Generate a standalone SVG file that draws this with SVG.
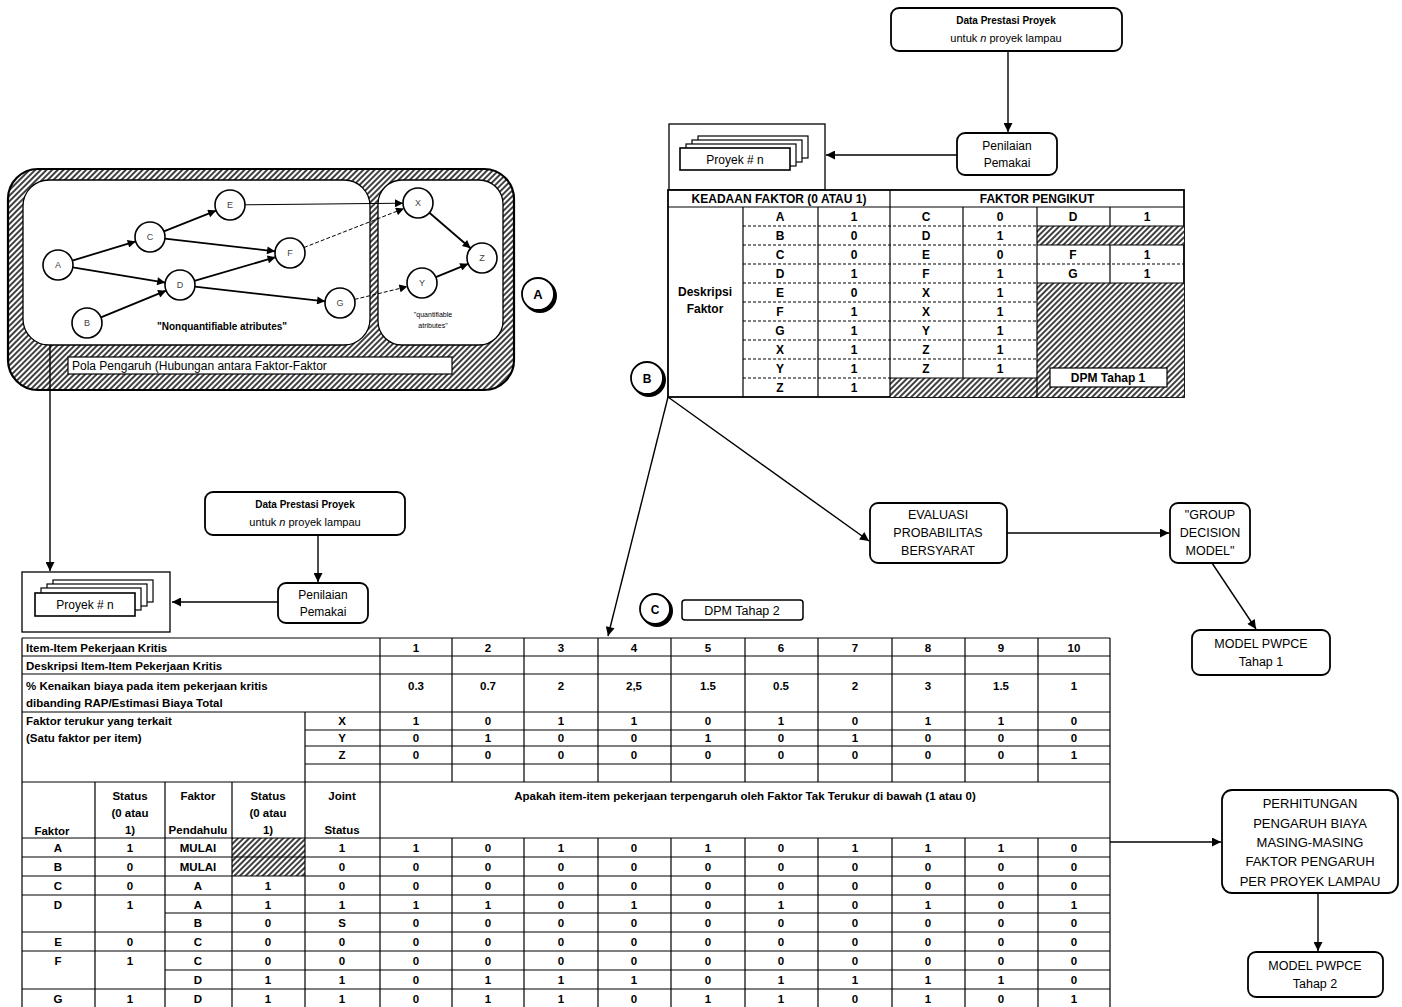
<svg xmlns="http://www.w3.org/2000/svg" width="1402" height="1007" viewBox="0 0 1402 1007">
<defs>
<style>
text{font-family:"Liberation Sans",Arial,Helvetica,sans-serif;fill:#000}
.m{text-anchor:middle}
.b{font-weight:bold}
.tb text{font-size:11.5px;font-weight:bold}
.tt text{font-size:12.5px}
.tk text{font-size:12px;font-weight:bold}
.ln{stroke:#000;stroke-width:1.4;fill:none}
.arr{marker-end:url(#ah)}
.bx{fill:#fff;stroke:#000;stroke-width:1.8}
.g{stroke:#000;stroke-width:1.2;fill:none}
.gd{stroke:#000;stroke-width:1.2;stroke-dasharray:3 2;fill:none}
.nd{fill:#fff;stroke:#000;stroke-width:1.6}
.nl{font-size:9px;fill:#444}
.ne{stroke:#000;stroke-width:1.8;fill:none;marker-end:url(#sh)}
.nt{stroke:#000;stroke-width:1;fill:none;marker-end:url(#sh)}
.nds{stroke:#000;stroke-width:1;stroke-dasharray:4 2;fill:none;marker-end:url(#sh)}
.hat{fill:url(#hatch)}
</style>
<pattern id="hatch" patternUnits="userSpaceOnUse" width="4" height="4" patternTransform="rotate(45)">
<rect width="4" height="4" fill="#fff"/>
<line x1="1" y1="0" x2="1" y2="4" stroke="#000" stroke-width="1.5"/>
</pattern>
<marker id="ah" viewBox="0 0 10 10" refX="10" refY="5" markerWidth="11" markerHeight="9" markerUnits="userSpaceOnUse" orient="auto">
<path d="M0,0 L10,5 L0,10 z" fill="#000"/>
</marker>
<marker id="sh" viewBox="0 0 10 10" refX="10" refY="5" markerWidth="10" markerHeight="8" markerUnits="userSpaceOnUse" orient="auto">
<path d="M0,0 L10,5 L0,10 z" fill="#000"/>
</marker>
</defs>
<rect width="1402" height="1007" fill="#fff"/>

<g id="pola-pengaruh">
<rect x="8" y="169" width="506" height="221" rx="30" class="hat" stroke="#000" stroke-width="2.2"/>
<rect x="23" y="180" width="347" height="165" rx="26" fill="#fff" stroke="#000" stroke-width="1.3"/>
<rect x="378" y="180" width="125" height="165" rx="24" fill="#fff" stroke="#000" stroke-width="1.3"/>
<rect x="68" y="357" width="384" height="17" fill="#fff" stroke="#000" stroke-width="1.2"/>
<text x="72" y="370" font-size="12">Pola Pengaruh (Hubungan antara Faktor-Faktor</text>
<text x="222" y="330" font-size="10" font-family="Liberation Serif,serif" font-weight="bold" class="m">"Nonquantifiable atributes"</text>
<text x="433" y="317" font-size="7" class="m">"quantifiable</text>
<text x="433" y="328" font-size="7" class="m">atributes"</text>
</g>

<g id="network-edges">
<line x1="72.3" y1="260.6" x2="135.7" y2="241.4" class="ne"/>
<line x1="72.8" y1="267.4" x2="165.2" y2="282.6" class="ne"/>
<line x1="100.9" y1="317.3" x2="166.1" y2="290.7" class="ne"/>
<line x1="163.9" y1="231.4" x2="216.1" y2="210.6" class="ne"/>
<line x1="164.9" y1="238.7" x2="275.1" y2="251.3" class="ne"/>
<line x1="194.4" y1="280.8" x2="275.6" y2="257.2" class="ne"/>
<line x1="194.9" y1="286.7" x2="325.1" y2="301.3" class="ne"/>
<line x1="245" y1="204.8" x2="403" y2="203.2" class="nt"/>
<line x1="304" y1="247.5" x2="404" y2="208.5" class="nds"/>
<line x1="354.6" y1="299.4" x2="407.4" y2="286.6" class="nds"/>
<line x1="429.4" y1="212.8" x2="470.6" y2="248.2" class="ne"/>
<line x1="435.8" y1="277.2" x2="468.2" y2="263.8" class="ne"/>
</g>
<g id="node-A"><circle cx="58" cy="265" r="15" class="nd"/><text x="58" y="268" class="m nl">A</text></g>
<g id="node-B"><circle cx="87" cy="323" r="15" class="nd"/><text x="87" y="326" class="m nl">B</text></g>
<g id="node-C"><circle cx="150" cy="237" r="15" class="nd"/><text x="150" y="240" class="m nl">C</text></g>
<g id="node-D"><circle cx="180" cy="285" r="15" class="nd"/><text x="180" y="288" class="m nl">D</text></g>
<g id="node-E"><circle cx="230" cy="205" r="15" class="nd"/><text x="230" y="208" class="m nl">E</text></g>
<g id="node-F"><circle cx="290" cy="253" r="15" class="nd"/><text x="290" y="256" class="m nl">F</text></g>
<g id="node-G"><circle cx="340" cy="303" r="15" class="nd"/><text x="340" y="306" class="m nl">G</text></g>
<g id="node-X"><circle cx="418" cy="203" r="15" class="nd"/><text x="418" y="206" class="m nl">X</text></g>
<g id="node-Y"><circle cx="422" cy="283" r="15" class="nd"/><text x="422" y="286" class="m nl">Y</text></g>
<g id="node-Z"><circle cx="482" cy="258" r="15" class="nd"/><text x="482" y="261" class="m nl">Z</text></g>

<g id="label-A"><circle cx="540" cy="296" r="17" fill="#000"/><circle cx="538" cy="294" r="16" fill="#fff" stroke="#000" stroke-width="1.8"/><text x="538" y="299" font-size="13" class="m b">A</text></g>
<g id="label-B"><circle cx="649" cy="380" r="17" fill="#000"/><circle cx="647" cy="378" r="16" fill="#fff" stroke="#000" stroke-width="1.8"/><text x="647" y="383" font-size="12" class="m b">B</text></g>
<g id="label-C"><circle cx="657" cy="611" r="16" fill="#000"/><circle cx="655" cy="609" r="15" fill="#fff" stroke="#000" stroke-width="1.8"/><text x="655" y="614" font-size="12" class="m b">C</text></g>

<g id="data-prestasi-1">
<rect x="891" y="8" width="231" height="43" rx="8" class="bx"/>
<text x="1006" y="24" font-size="10" class="m b">Data Prestasi Proyek</text>
<text x="1006" y="42" font-size="11" class="m">untuk <tspan font-style="italic">n</tspan> proyek lampau</text>
</g>
<g id="penilaian-1">
<rect x="957" y="133" width="100" height="42" rx="8" class="bx"/>
<text x="1007" y="150" font-size="12" class="m">Penilaian</text>
<text x="1007" y="167" font-size="12" class="m">Pemakai</text>
</g>
<g id="proyek-1">
<rect x="669" y="124" width="156" height="66" fill="#fff" stroke="#000" stroke-width="1.3"/>
<rect x="698" y="136" width="110" height="22" fill="#fff" stroke="#000" stroke-width="1.2"/>
<rect x="692" y="140" width="110" height="22" fill="#fff" stroke="#000" stroke-width="1.2"/>
<rect x="686" y="144" width="110" height="22" fill="#fff" stroke="#000" stroke-width="1.2"/>
<rect x="680" y="148" width="110" height="22" fill="#fff" stroke="#000" stroke-width="1.6"/>
<text x="735" y="164" font-size="12" class="m">Proyek # n</text>
</g>

<g id="dpm-tahap-1">
<rect x="668" y="190" width="516" height="207" fill="#fff" stroke="#000" stroke-width="1.8"/>
<rect x="1037" y="226" width="147" height="19" class="hat"/>
<rect x="1037" y="283" width="147" height="114" class="hat"/>
<rect x="890" y="378" width="147" height="19" class="hat"/>
<line x1="668" y1="207" x2="1184" y2="207" class="g"/>
<line x1="890" y1="190" x2="890" y2="397" class="g"/>
<line x1="743" y1="207" x2="743" y2="397" class="g"/>
<line x1="818" y1="207" x2="818" y2="397" class="g"/>
<line x1="963" y1="207" x2="963" y2="378" class="g"/>
<line x1="1037" y1="207" x2="1037" y2="397" class="g"/>
<line x1="1110" y1="207" x2="1110" y2="226" class="g"/>
<line x1="1110" y1="245" x2="1110" y2="283" class="g"/>
<line x1="1037" y1="226" x2="1184" y2="226" class="g"/>
<line x1="1037" y1="245" x2="1184" y2="245" class="g"/>
<line x1="1037" y1="283" x2="1184" y2="283" class="g"/>
<line x1="1037" y1="264" x2="1184" y2="264" class="gd"/>
<path d="M743 226H1037M743 245H1037M743 264H1037M743 283H1037M743 302H1037M743 321H1037M743 340H1037M743 359H1037M743 378H890" class="gd"/>
<line x1="890" y1="378" x2="1037" y2="378" class="g"/>
<rect x="1050" y="368" width="117" height="19" fill="#fff" stroke="#000" stroke-width="1.2"/>
<g class="tk">
<text x="779" y="203" class="m">KEADAAN FAKTOR (0 ATAU 1)</text>
<text x="1037" y="203" class="m">FAKTOR PENGIKUT</text>
<text x="705" y="296" class="m">Deskripsi</text>
<text x="705" y="313" class="m">Faktor</text>
<text x="1108" y="382" class="m">DPM Tahap 1</text>
<text x="780" y="221" class="m">A</text><text x="854" y="221" class="m">1</text><text x="926" y="221" class="m">C</text><text x="1000" y="221" class="m">0</text><text x="1073" y="221" class="m">D</text><text x="1147" y="221" class="m">1</text>
<text x="780" y="240" class="m">B</text><text x="854" y="240" class="m">0</text><text x="926" y="240" class="m">D</text><text x="1000" y="240" class="m">1</text>
<text x="780" y="259" class="m">C</text><text x="854" y="259" class="m">0</text><text x="926" y="259" class="m">E</text><text x="1000" y="259" class="m">0</text><text x="1073" y="259" class="m">F</text><text x="1147" y="259" class="m">1</text>
<text x="780" y="278" class="m">D</text><text x="854" y="278" class="m">1</text><text x="926" y="278" class="m">F</text><text x="1000" y="278" class="m">1</text><text x="1073" y="278" class="m">G</text><text x="1147" y="278" class="m">1</text>
<text x="780" y="297" class="m">E</text><text x="854" y="297" class="m">0</text><text x="926" y="297" class="m">X</text><text x="1000" y="297" class="m">1</text>
<text x="780" y="316" class="m">F</text><text x="854" y="316" class="m">1</text><text x="926" y="316" class="m">X</text><text x="1000" y="316" class="m">1</text>
<text x="780" y="335" class="m">G</text><text x="854" y="335" class="m">1</text><text x="926" y="335" class="m">Y</text><text x="1000" y="335" class="m">1</text>
<text x="780" y="354" class="m">X</text><text x="854" y="354" class="m">1</text><text x="926" y="354" class="m">Z</text><text x="1000" y="354" class="m">1</text>
<text x="780" y="373" class="m">Y</text><text x="854" y="373" class="m">1</text><text x="926" y="373" class="m">Z</text><text x="1000" y="373" class="m">1</text>
<text x="780" y="392" class="m">Z</text><text x="854" y="392" class="m">1</text>
</g>
</g>

<g id="evaluasi">
<rect x="870" y="503" width="137" height="60" rx="8" class="bx"/>
<g class="tt"><text x="938" y="519" class="m">EVALUASI</text><text x="938" y="537" class="m">PROBABILITAS</text><text x="938" y="555" class="m">BERSYARAT</text></g>
</g>
<g id="group-decision">
<rect x="1170" y="503" width="80" height="60" rx="8" class="bx"/>
<g class="tt"><text x="1210" y="519" class="m">"GROUP</text><text x="1210" y="537" class="m">DECISION</text><text x="1210" y="555" class="m">MODEL"</text></g>
</g>
<g id="model-pwpce-1">
<rect x="1192" y="630" width="138" height="45" rx="8" class="bx"/>
<g class="tt"><text x="1261" y="648" class="m">MODEL PWPCE</text><text x="1261" y="666" class="m">Tahap 1</text></g>
</g>

<g id="data-prestasi-2">
<rect x="205" y="492" width="200" height="43" rx="8" class="bx"/>
<text x="305" y="508" font-size="10" class="m b">Data Prestasi Proyek</text>
<text x="305" y="526" font-size="11" class="m">untuk <tspan font-style="italic">n</tspan> proyek lampau</text>
</g>
<g id="penilaian-2">
<rect x="278" y="583" width="90" height="40" rx="8" class="bx"/>
<text x="323" y="599" font-size="12" class="m">Penilaian</text>
<text x="323" y="616" font-size="12" class="m">Pemakai</text>
</g>
<g id="proyek-2">
<rect x="22" y="572" width="148" height="60" fill="#fff" stroke="#000" stroke-width="1.3"/>
<rect x="53" y="580" width="100" height="22" fill="#fff" stroke="#000" stroke-width="1.2"/>
<rect x="47" y="584" width="100" height="22" fill="#fff" stroke="#000" stroke-width="1.2"/>
<rect x="41" y="588" width="100" height="22" fill="#fff" stroke="#000" stroke-width="1.2"/>
<rect x="35" y="593" width="100" height="23" fill="#fff" stroke="#000" stroke-width="1.6"/>
<text x="85" y="609" font-size="12" class="m">Proyek # n</text>
</g>
<g id="dpm-tahap-2-label">
<rect x="682" y="600" width="121" height="20" rx="3" fill="#fff" stroke="#000" stroke-width="1.5"/>
<text x="742" y="615" font-size="12.5" class="m">DPM Tahap 2</text>
</g>

<g id="dpm-tahap-2">
<rect x="232" y="838" width="73" height="19" class="hat"/>
<rect x="232" y="857" width="73" height="19" class="hat"/>
<path d="M22 638V1007M380 638V1007M1110 638V1007M305 712V1007M95 782V1007M165 782V1007M232 782V1007" class="g" stroke-width="1.6"/>
<path d="M452 638V782M524 638V782M598 638V782M671 638V782M745 638V782M818 638V782M892 638V782M965 638V782M1038 638V782M452 838V1007M524 838V1007M598 838V1007M671 838V1007M745 838V1007M818 838V1007M892 838V1007M965 838V1007M1038 838V1007" class="g"/>
<path d="M22 638H1110" class="g" stroke-width="2"/>
<path d="M22 656H1110M22 674H1110M22 712H1110M22 782H1110M22 838H1110M22 857H1110M22 876H1110M22 895H1110M165 913H1110M22 932H1110M22 951H1110M165 970H1110M22 989H1110M305 764H1110" class="g"/>
<path d="M305 730H1110M305 746H1110" class="g" stroke-width="1"/>
<g class="tb">
<text x="26" y="652">Item-Item Pekerjaan Kritis</text>
<text x="26" y="670">Deskripsi Item-Item Pekerjaan Kritis</text>
<text x="26" y="690">% Kenaikan biaya pada item pekerjaan kritis</text>
<text x="26" y="707">dibanding RAP/Estimasi Biaya Total</text>
<text x="26" y="725">Faktor terukur yang terkait</text>
<text x="26" y="742">(Satu faktor per item)</text>
<text x="342" y="725" class="m">X</text><text x="342" y="742" class="m">Y</text><text x="342" y="759" class="m">Z</text>
<text x="52" y="835" class="m">Faktor</text>
<text x="130" y="800" class="m">Status</text><text x="130" y="817" class="m">(0 atau</text><text x="130" y="834" class="m">1)</text>
<text x="198" y="800" class="m">Faktor</text><text x="198" y="834" class="m">Pendahulu</text>
<text x="268" y="800" class="m">Status</text><text x="268" y="817" class="m">(0 atau</text><text x="268" y="834" class="m">1)</text>
<text x="342" y="800" class="m">Joint</text><text x="342" y="834" class="m">Status</text>
<text x="745" y="800" class="m">Apakah item-item pekerjaan terpengaruh oleh Faktor Tak Terukur di bawah (1 atau 0)</text>

<text x="416" y="652" class="m">1</text><text x="488" y="652" class="m">2</text><text x="561" y="652" class="m">3</text><text x="634" y="652" class="m">4</text><text x="708" y="652" class="m">5</text><text x="781" y="652" class="m">6</text><text x="855" y="652" class="m">7</text><text x="928" y="652" class="m">8</text><text x="1001" y="652" class="m">9</text><text x="1074" y="652" class="m">10</text>
<text x="416" y="690" class="m">0.3</text><text x="488" y="690" class="m">0.7</text><text x="561" y="690" class="m">2</text><text x="634" y="690" class="m">2,5</text><text x="708" y="690" class="m">1.5</text><text x="781" y="690" class="m">0.5</text><text x="855" y="690" class="m">2</text><text x="928" y="690" class="m">3</text><text x="1001" y="690" class="m">1.5</text><text x="1074" y="690" class="m">1</text>
<text x="416" y="725" class="m">1</text><text x="488" y="725" class="m">0</text><text x="561" y="725" class="m">1</text><text x="634" y="725" class="m">1</text><text x="708" y="725" class="m">0</text><text x="781" y="725" class="m">1</text><text x="855" y="725" class="m">0</text><text x="928" y="725" class="m">1</text><text x="1001" y="725" class="m">1</text><text x="1074" y="725" class="m">0</text>
<text x="416" y="742" class="m">0</text><text x="488" y="742" class="m">1</text><text x="561" y="742" class="m">0</text><text x="634" y="742" class="m">0</text><text x="708" y="742" class="m">1</text><text x="781" y="742" class="m">0</text><text x="855" y="742" class="m">1</text><text x="928" y="742" class="m">0</text><text x="1001" y="742" class="m">0</text><text x="1074" y="742" class="m">0</text>
<text x="416" y="759" class="m">0</text><text x="488" y="759" class="m">0</text><text x="561" y="759" class="m">0</text><text x="634" y="759" class="m">0</text><text x="708" y="759" class="m">0</text><text x="781" y="759" class="m">0</text><text x="855" y="759" class="m">0</text><text x="928" y="759" class="m">0</text><text x="1001" y="759" class="m">0</text><text x="1074" y="759" class="m">1</text>

<text x="58" y="852" class="m">A</text><text x="130" y="852" class="m">1</text><text x="198" y="852" class="m">MULAI</text><text x="342" y="852" class="m">1</text>
<text x="58" y="871" class="m">B</text><text x="130" y="871" class="m">0</text><text x="198" y="871" class="m">MULAI</text><text x="342" y="871" class="m">0</text>
<text x="58" y="890" class="m">C</text><text x="130" y="890" class="m">0</text><text x="198" y="890" class="m">A</text><text x="268" y="890" class="m">1</text><text x="342" y="890" class="m">0</text>
<text x="58" y="909" class="m">D</text><text x="130" y="909" class="m">1</text><text x="198" y="909" class="m">A</text><text x="268" y="909" class="m">1</text><text x="342" y="909" class="m">1</text>
<text x="198" y="927" class="m">B</text><text x="268" y="927" class="m">0</text><text x="342" y="927" class="m">S</text>
<text x="58" y="946" class="m">E</text><text x="130" y="946" class="m">0</text><text x="198" y="946" class="m">C</text><text x="268" y="946" class="m">0</text><text x="342" y="946" class="m">0</text>
<text x="58" y="965" class="m">F</text><text x="130" y="965" class="m">1</text><text x="198" y="965" class="m">C</text><text x="268" y="965" class="m">0</text><text x="342" y="965" class="m">0</text>
<text x="198" y="984" class="m">D</text><text x="268" y="984" class="m">1</text><text x="342" y="984" class="m">1</text>
<text x="58" y="1003" class="m">G</text><text x="130" y="1003" class="m">1</text><text x="198" y="1003" class="m">D</text><text x="268" y="1003" class="m">1</text><text x="342" y="1003" class="m">1</text>

<text x="416" y="852" class="m">1</text><text x="488" y="852" class="m">0</text><text x="561" y="852" class="m">1</text><text x="634" y="852" class="m">0</text><text x="708" y="852" class="m">1</text><text x="781" y="852" class="m">0</text><text x="855" y="852" class="m">1</text><text x="928" y="852" class="m">1</text><text x="1001" y="852" class="m">1</text><text x="1074" y="852" class="m">0</text>
<text x="416" y="871" class="m">0</text><text x="488" y="871" class="m">0</text><text x="561" y="871" class="m">0</text><text x="634" y="871" class="m">0</text><text x="708" y="871" class="m">0</text><text x="781" y="871" class="m">0</text><text x="855" y="871" class="m">0</text><text x="928" y="871" class="m">0</text><text x="1001" y="871" class="m">0</text><text x="1074" y="871" class="m">0</text>
<text x="416" y="890" class="m">0</text><text x="488" y="890" class="m">0</text><text x="561" y="890" class="m">0</text><text x="634" y="890" class="m">0</text><text x="708" y="890" class="m">0</text><text x="781" y="890" class="m">0</text><text x="855" y="890" class="m">0</text><text x="928" y="890" class="m">0</text><text x="1001" y="890" class="m">0</text><text x="1074" y="890" class="m">0</text>
<text x="416" y="909" class="m">1</text><text x="488" y="909" class="m">1</text><text x="561" y="909" class="m">0</text><text x="634" y="909" class="m">1</text><text x="708" y="909" class="m">0</text><text x="781" y="909" class="m">1</text><text x="855" y="909" class="m">0</text><text x="928" y="909" class="m">1</text><text x="1001" y="909" class="m">0</text><text x="1074" y="909" class="m">1</text>
<text x="416" y="927" class="m">0</text><text x="488" y="927" class="m">0</text><text x="561" y="927" class="m">0</text><text x="634" y="927" class="m">0</text><text x="708" y="927" class="m">0</text><text x="781" y="927" class="m">0</text><text x="855" y="927" class="m">0</text><text x="928" y="927" class="m">0</text><text x="1001" y="927" class="m">0</text><text x="1074" y="927" class="m">0</text>
<text x="416" y="946" class="m">0</text><text x="488" y="946" class="m">0</text><text x="561" y="946" class="m">0</text><text x="634" y="946" class="m">0</text><text x="708" y="946" class="m">0</text><text x="781" y="946" class="m">0</text><text x="855" y="946" class="m">0</text><text x="928" y="946" class="m">0</text><text x="1001" y="946" class="m">0</text><text x="1074" y="946" class="m">0</text>
<text x="416" y="965" class="m">0</text><text x="488" y="965" class="m">0</text><text x="561" y="965" class="m">0</text><text x="634" y="965" class="m">0</text><text x="708" y="965" class="m">0</text><text x="781" y="965" class="m">0</text><text x="855" y="965" class="m">0</text><text x="928" y="965" class="m">0</text><text x="1001" y="965" class="m">0</text><text x="1074" y="965" class="m">0</text>
<text x="416" y="984" class="m">0</text><text x="488" y="984" class="m">1</text><text x="561" y="984" class="m">1</text><text x="634" y="984" class="m">1</text><text x="708" y="984" class="m">0</text><text x="781" y="984" class="m">1</text><text x="855" y="984" class="m">1</text><text x="928" y="984" class="m">1</text><text x="1001" y="984" class="m">1</text><text x="1074" y="984" class="m">0</text>
<text x="416" y="1003" class="m">0</text><text x="488" y="1003" class="m">1</text><text x="561" y="1003" class="m">1</text><text x="634" y="1003" class="m">0</text><text x="708" y="1003" class="m">1</text><text x="781" y="1003" class="m">1</text><text x="855" y="1003" class="m">0</text><text x="928" y="1003" class="m">1</text><text x="1001" y="1003" class="m">0</text><text x="1074" y="1003" class="m">1</text>
</g>
</g>

<g id="perhitungan">
<rect x="1222" y="790" width="176" height="103" rx="10" class="bx"/>
<g font-size="13"><text x="1310" y="808" class="m">PERHITUNGAN</text><text x="1310" y="828" class="m">PENGARUH BIAYA</text><text x="1310" y="847" class="m">MASING-MASING</text><text x="1310" y="866" class="m">FAKTOR PENGARUH</text><text x="1310" y="886" class="m">PER PROYEK LAMPAU</text></g>
</g>
<g id="model-pwpce-2">
<rect x="1248" y="952" width="135" height="45" rx="8" class="bx"/>
<g class="tt"><text x="1315" y="970" class="m">MODEL PWPCE</text><text x="1315" y="988" class="m">Tahap 2</text></g>
</g>

<g id="connectors">
<line x1="50" y1="345" x2="50" y2="571" class="ln arr"/>
<line x1="1008" y1="51" x2="1008" y2="132" class="ln arr"/>
<line x1="957" y1="155" x2="826" y2="155" class="ln arr"/>
<line x1="318" y1="535" x2="318" y2="582" class="ln arr"/>
<line x1="278" y1="602" x2="172" y2="602" class="ln arr"/>
<line x1="668" y1="397" x2="608" y2="636" class="ln arr"/>
<line x1="668" y1="397" x2="869" y2="541" class="ln arr"/>
<line x1="1007" y1="533" x2="1169" y2="533" class="ln arr"/>
<line x1="1212" y1="563" x2="1256" y2="629" class="ln arr"/>
<line x1="1110" y1="842" x2="1221" y2="842" class="ln arr"/>
<line x1="1318" y1="893" x2="1318" y2="951" class="ln arr"/>
</g>
</svg>
